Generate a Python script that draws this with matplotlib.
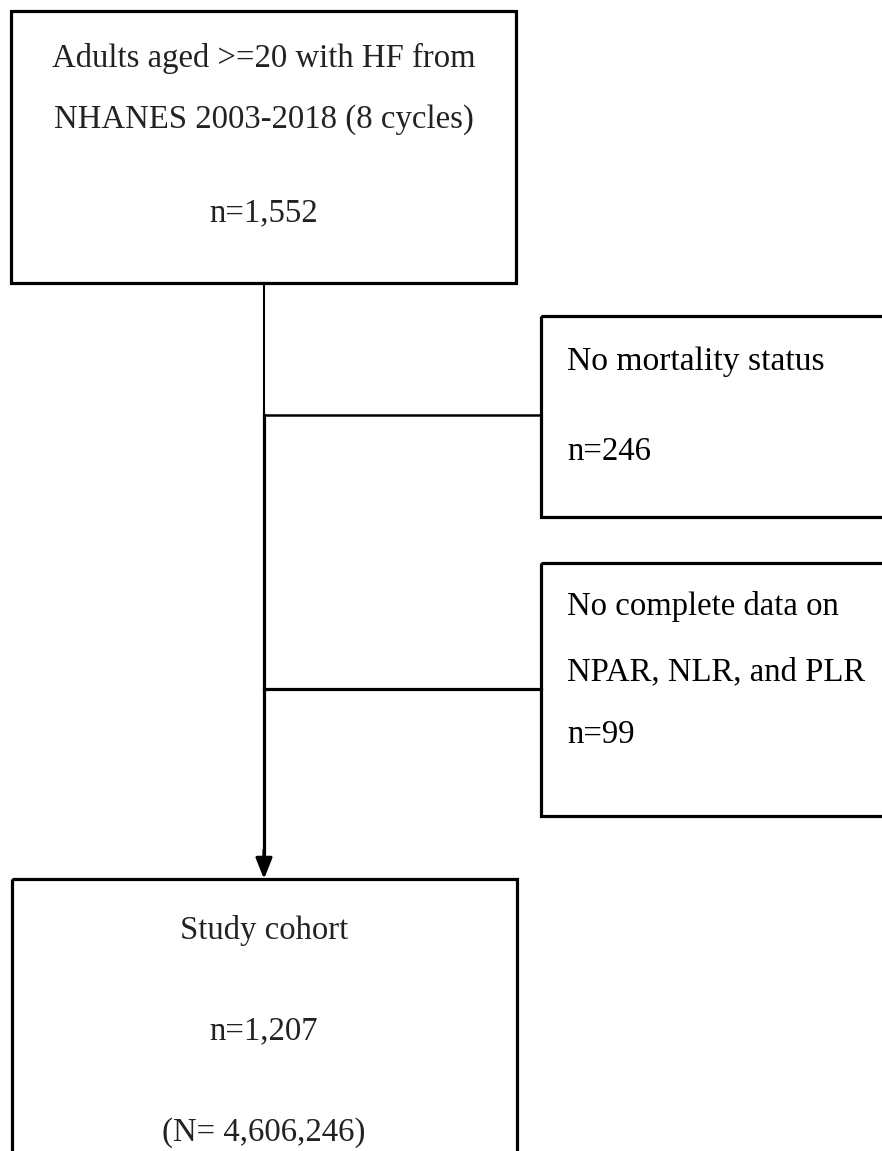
import matplotlib.pyplot as plt
from matplotlib.patches import Rectangle

# flow numbers
n_start = "1,552"
exclusion_labels = ["No mortality status", "No complete data on\n\nNPAR, NLR, and PLR"]
exclusion_n = [246, 99]
n_cohort = "1,207"
N_weighted = "4,606,246"

plt.rcParams['font.family'] = ['Liberation Serif', 'DejaVu Serif']
fs = 23.6
txt_color = '#222222'

fig = plt.figure(figsize=(8.82, 11.51), dpi=100)
ax = fig.add_axes([0, 0, 1, 1])
ax.set_xlim(0, 882)
ax.set_ylim(1151, 0)
ax.axis('off')

box_lw = 2.3


def box(x0, y0, x1, y1):
    ax.add_patch(Rectangle((x0, y0), x1 - x0, y1 - y0, fill=False,
                           edgecolor='black', linewidth=box_lw, clip_on=False))


# top box
box(11, 11, 516, 283)
ax.text(264, 58, "Adults aged >=20 with HF from", ha='center', va='center',
        fontsize=fs, color=txt_color)
ax.text(264, 120, "NHANES 2003-2018 (8 cycles)", ha='center', va='center',
        fontsize=fs, color=txt_color)
ax.text(264, 213, "n=" + n_start, ha='center', va='center',
        fontsize=fs, color=txt_color)

# exclusion boxes (run off the right edge)
box(541, 316, 900, 517)
ax.text(567, 362, exclusion_labels[0], ha='left', va='center',
        fontsize=fs + 0.6, color='black')
ax.text(567, 452, "n=%d" % exclusion_n[0], ha='left', va='center',
        fontsize=fs, color='black')

box(541, 563, 900, 816)
ax.text(567, 639, exclusion_labels[1], ha='left', va='center',
        fontsize=fs, color='black', linespacing=1.1)
ax.text(567, 735, "n=%d" % exclusion_n[1], ha='left', va='center',
        fontsize=fs, color='black')

# connectors
xc = 264
ax.plot([xc, xc], [283, 415], color='black', lw=1.5)
ax.plot([xc, xc], [415, 862], color='black', lw=2.3)
ax.plot([xc, 541], [415, 415], color='black', lw=1.8)
ax.plot([xc, 541], [689, 689], color='black', lw=2.3)
ax.annotate('', xy=(xc, 879), xytext=(xc, 850),
            arrowprops=dict(arrowstyle='-|>,head_length=1.25,head_width=0.5',
                            color='black', lw=2.3, shrinkA=0, shrinkB=0))

# study cohort box (runs off the bottom)
box(12, 879, 517, 1170)
ax.text(264, 930, "Study cohort", ha='center', va='center',
        fontsize=fs, color=txt_color)
ax.text(264, 1031, "n=" + n_cohort, ha='center', va='center',
        fontsize=fs, color=txt_color)
ax.text(264, 1133, "(N= " + N_weighted + ")", ha='center', va='center',
        fontsize=fs, color=txt_color)

fig.savefig('out.png', dpi=100)
